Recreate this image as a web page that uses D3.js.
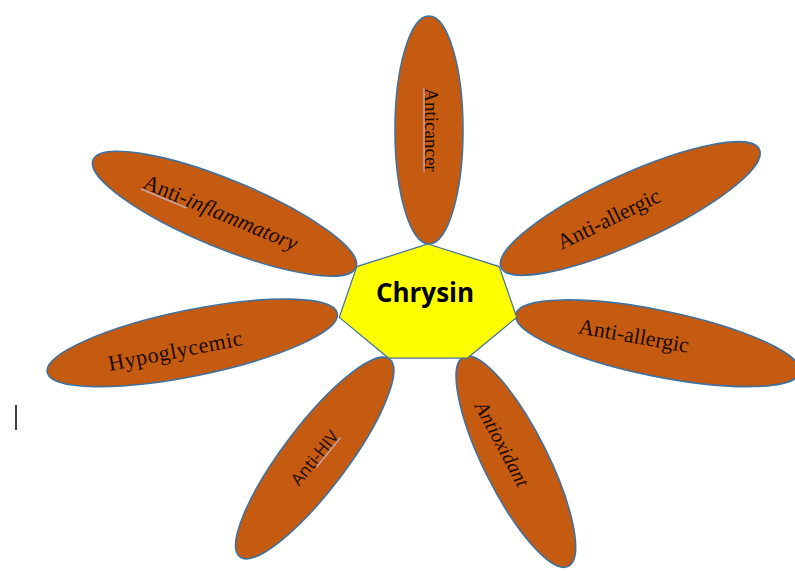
<!DOCTYPE html>
<html>
<head>
<meta charset="utf-8">
<script src="https://cdn.jsdelivr.net/npm/d3@7"></script>
<style>
  body { margin: 0; background: #fff; }
  svg { display: block; }
</style>
</head>
<body>
<div id="chart"></div>
<script>
var width = 795;
var height = 571;

// data
var centreLabel = "Chrysin";
var effects = ["Anticancer", "Anti-allergic", "Anti-allergic", "Antioxidant",
               "Anti-HIV", "Hypoglycemic", "Anti-inflammatory"];

// layout of each petal (same order as effects), attached to heptagon vertex i
// dir = petal axis angle (deg), rx/ry = half length / half width,
// tip = nudge of inner tip, txt = [along, across] offset of label, rot = label angle
var petalLayout = [
    {dir: -90,   rx: 114, ry: 34, tip: [1, 0],  txt: [0, 3],    rot: 90},
    {dir: -24.6, rx: 142, ry: 34, tip: [2, 1],  txt: [-24, 0],  rot: -26},
    {dir: 11.5,  rx: 145, ry: 33, tip: [-1, -3], txt: [-25, -3], rot: 10},
    {dir: 63.4,  rx: 117, ry: 32, tip: [-4, -1], txt: [-22, 4],  rot: 62},
    {dir: 127.1, rx: 124, ry: 32, tip: [1, 1],  txt: [0, 0],    rot: -51},
    {dir: 168.5, rx: 148, ry: 33, tip: [-2, -4], txt: [18, -4],  rot: -11},
    {dir: 202.3, rx: 142, ry: 34, tip: [-1, 1], txt: [4, 0],    rot: 22.6}
];

var hept = {cx: 428, cy: 304, rx: 91, ry: 60};
var petalFill = "#c55a11", outline = "#41719c", markColor = "#c9a3a6";

var svg = d3.select("#chart").append("svg")
    .attr("width", width)
    .attr("height", height);

var angle = d3.scaleLinear().domain([0, 7]).range([0, 2 * Math.PI]);
var vertices = d3.range(7).map(function(k) {
    return [hept.cx + hept.rx * Math.sin(angle(k)),
            hept.cy - hept.ry * Math.cos(angle(k))];
});

var rad = Math.PI / 180;
var petals = effects.map(function(label, i) {
    var p = petalLayout[i];
    var tx = vertices[i][0] + p.tip[0], ty = vertices[i][1] + p.tip[1];
    var c = Math.cos(p.dir * rad), s = Math.sin(p.dir * rad);
    var cx = tx + c * p.rx, cy = ty + s * p.rx;
    return {
        label: label, i: i, layout: p, cx: cx, cy: cy,
        lx: cx + c * p.txt[0] - s * p.txt[1],
        ly: cy + s * p.txt[0] + c * p.txt[1]
    };
});

// petals
svg.append("g").selectAll("ellipse")
    .data(petals)
    .enter().append("ellipse")
        .attr("transform", d => "translate(" + d.cx + "," + d.cy + ") rotate(" + d.layout.dir + ")")
        .attr("rx", d => d.layout.rx)
        .attr("ry", d => d.layout.ry)
        .attr("fill", petalFill)
        .attr("stroke", outline)
        .attr("stroke-width", 1.6);

// centre heptagon
svg.append("path")
    .attr("d", d3.line()(vertices) + "Z")
    .attr("fill", "#ffff00")
    .attr("stroke", outline)
    .attr("stroke-width", 1.2);

svg.append("text")
    .attr("x", 425)
    .attr("y", 302)
    .attr("text-anchor", "middle")
    .attr("font-family", "'Open Sans', sans-serif")
    .attr("font-weight", "bold")
    .attr("font-size", 26)
    .attr("fill", "#000")
    .text(centreLabel);

// label styling per petal
var serif = "'Liberation Serif', 'Times New Roman', serif";
var labelStyle = [
    {font: serif, size: 19, italic: false, mark: [0, 1]},
    {font: serif, size: 22, italic: false},
    {font: serif, size: 22, italic: false},
    {font: serif, size: 20, italic: true},
    {font: "'Open Sans', sans-serif", size: 17, italic: false, mark: [0.4, 1]},
    {font: serif, size: 22, italic: false, spacing: 0.6},
    {font: serif, size: 22, italic: false, split: 5, mark: [0, 0.3]}
];

var labels = svg.append("g").selectAll("g")
    .data(petals)
    .enter().append("g")
        .attr("transform", d => "translate(" + d.lx + "," + d.ly + ") rotate(" + d.layout.rot + ")");

labels.each(function(d) {
    var st = labelStyle[d.i];
    var g = d3.select(this);
    var t = g.append("text")
        .attr("text-anchor", "middle")
        .attr("dy", "0.35em")
        .attr("font-family", st.font)
        .attr("font-size", st.size)
        .attr("letter-spacing", st.spacing || 0)
        .attr("fill", "#1a0a00");
    if (st.split) {
        t.append("tspan").text(d.label.slice(0, st.split));
        t.append("tspan").attr("font-style", "italic").text(d.label.slice(st.split));
    } else {
        t.attr("font-style", st.italic ? "italic" : "normal").text(d.label);
    }
    if (st.mark) {
        var w = t.node().getComputedTextLength();
        var x0 = -w / 2 + w * st.mark[0], x1 = -w / 2 + w * st.mark[1];
        g.insert("line", "text")
            .attr("x1", x0).attr("x2", x1)
            .attr("y1", st.size * 0.42).attr("y2", st.size * 0.42)
            .attr("stroke", markColor)
            .attr("stroke-width", 1.5);
    }
});

// stray text cursor at the left edge
svg.append("line")
    .attr("x1", 16).attr("x2", 16)
    .attr("y1", 405).attr("y2", 430)
    .attr("stroke", "#000")
    .attr("stroke-width", 1.5);
</script>
</body>
</html>
